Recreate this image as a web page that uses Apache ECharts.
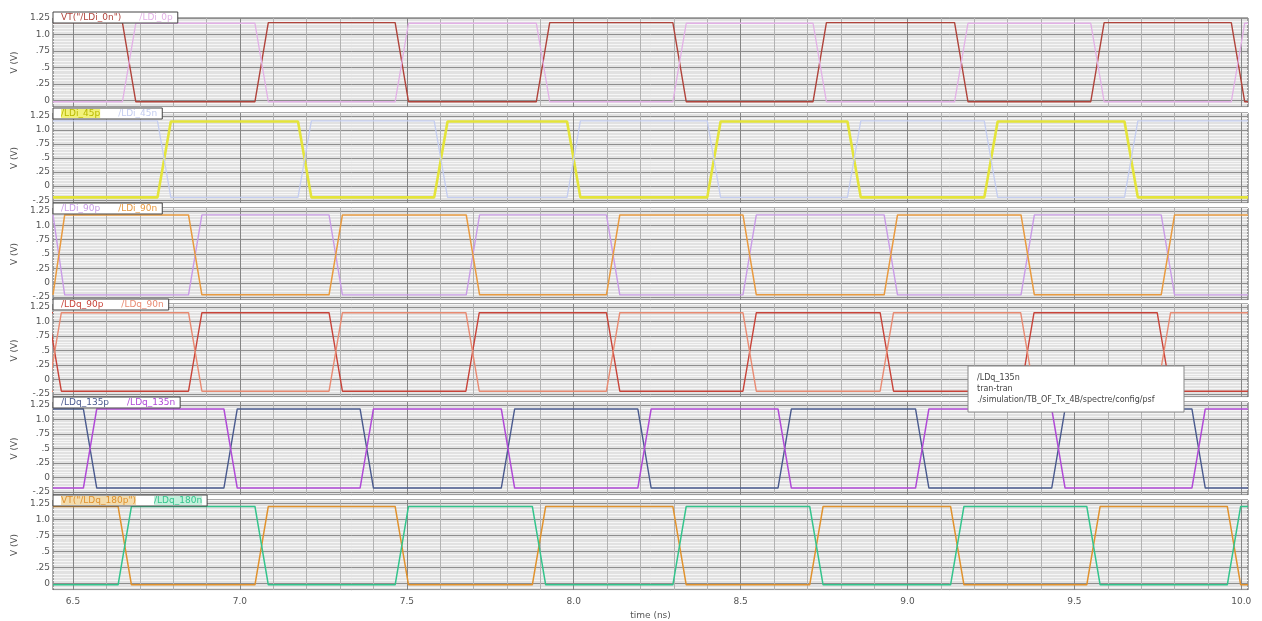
<!DOCTYPE html>
<html>
<head>
<meta charset="utf-8">
<title>LD waveforms</title>
<script src="https://cdn.jsdelivr.net/npm/echarts@6/dist/echarts.min.js"></script>
<style>
  html, body { margin: 0; padding: 0; background: #fff; }
  #chart { width: 1262px; height: 621px; }
</style>
</head>
<body>
<div id="chart"></div>
<script>
// time axis (ns)
const xTickValues = [6.5, 7.0, 7.5, 8.0, 8.5, 9.0, 9.5, 10.0];
const xTickLabels = ['6.5', '7.0', '7.5', '8.0', '8.5', '9.0', '9.5', '10.0'];
const yTickValues = [-0.25, 0, 0.25, 0.5, 0.75, 1.0, 1.25];
const yTickLabels = ['-.25', '0', '.25', '.5', '.75', '1.0', '1.25'];

// mid-point of every transition, read per panel (ns)
const edgesI0   = [6.668, 7.065, 7.485, 7.908, 8.317, 8.737, 9.161, 9.569, 9.990];
const edgesI45  = [6.773, 7.194, 7.602, 8.000, 8.420, 8.840, 9.250, 9.670];
const edgesI90  = [6.455, 6.866, 7.287, 7.698, 8.118, 8.527, 8.950, 9.360, 9.780];
const edgesQ90  = [6.445, 6.866, 7.287, 7.697, 8.118, 8.527, 8.938, 9.359, 9.768];
const edgesQ135 = [6.551, 6.972, 7.380, 7.803, 8.212, 8.632, 9.044, 9.452, 9.872];
const edgesQ180 = [6.655, 7.065, 7.485, 7.896, 8.317, 8.727, 9.149, 9.557, 9.978];
const panelEdges = [edgesI0, edgesI45, edgesI90, edgesQ90, edgesQ135, edgesQ180];

// per panel y range (V)
const panelMin = [-0.1, -0.3, -0.3, -0.3, -0.3, -0.1];
const panelMax = [1.25, 1.3, 1.3, 1.3, 1.3, 1.3];

// signals
const signalNames = ['VT("/LDi_0n")', '/LDi_0p', '/LDi_45p', '/LDi_45n', '/LDi_90p', '/LDi_90n',
  '/LDq_90p', '/LDq_90n', '/LDq_135p', '/LDq_135n', 'VT("/LDq_180p")', '/LDq_180n'];
const signalPanel = [0, 0, 1, 1, 2, 2, 3, 3, 4, 4, 5, 5];
const signalStartHigh = [true, false, false, true, true, false, true, false, true, false, true, false];
const signalHigh = [1.18, 1.17, 1.15, 1.16, 1.18, 1.18, 1.15, 1.15, 1.18, 1.18, 1.2, 1.2];
const signalLow = [-0.02, -0.02, -0.2, -0.2, -0.21, -0.21, -0.2, -0.2, -0.18, -0.18, -0.02, -0.02];
const signalColors = ['#b0443c', '#e2b0e6', '#e4e43a', '#c4cdf0', '#c99be6', '#e89a40',
  '#c8443a', '#e88a72', '#4a5a8e', '#b04ad6', '#e0922e', '#34c48c'];
const signalWidth = [1.4, 1.3, 2.6, 1.3, 1.4, 1.5, 1.4, 1.4, 1.4, 1.5, 1.5, 1.5];
const signalTextBg = [null, null, '#f2f27a', null, null, null, null, null, null, null, '#f3dcae', '#c4f0dc'];

const X_MIN = 6.44, X_MAX = 10.02;
const HALF_EDGE = 0.02;
const FONT = 'DejaVu Sans';

const gridTop = [18, 113, 208, 304, 402, 500];
const gridHeight = [89, 90, 92, 93, 93, 90];
const legendTop = [12, 108, 203, 299, 397, 495];

function wave(edges, startHigh, hi, lo) {
  const pts = [];
  let level = startHigh ? hi : lo;
  pts.push([X_MIN, level]);
  edges.forEach(t => {
    const next = level === hi ? lo : hi;
    pts.push([t - HALF_EDGE, level]);
    pts.push([t + HALF_EDGE, next]);
    level = next;
  });
  pts.push([X_MAX, level]);
  return pts;
}

// vertical grid: lines every 0.02 from 6.44, only 0.1 steps visible
const xLineColors = [];
for (let i = 0; i < 25; i++) {
  if (i === 3) xLineColors.push('#858585');
  else if (i % 5 === 3) xLineColors.push('#b2b2b2');
  else xLineColors.push('rgba(0,0,0,0)');
}

function yLineColors(min) {
  const majorIdx = Math.round(-min / 0.05) % 5;
  const arr = [];
  for (let i = 0; i < 5; i++) arr.push(i === majorIdx ? '#8e8e8e' : '#f6f6f6');
  return arr;
}

function lookup(values, labels, v) {
  for (let i = 0; i < values.length; i++) {
    if (Math.abs(values[i] - v) < 1e-6) return labels[i];
  }
  return '';
}

const grids = [], xAxes = [], yAxes = [], legends = [];
for (let p = 0; p < 6; p++) {
  const last = p === 5;
  grids.push({
    left: 53, right: 14, top: gridTop[p], height: gridHeight[p],
    show: true, backgroundColor: '#e2e2e2', borderColor: '#555', borderWidth: 1
  });
  xAxes.push({
    type: 'value', gridIndex: p, min: X_MIN, max: X_MAX, interval: 0.02,
    axisLine: { show: false }, axisTick: { show: false },
    splitLine: { show: true, lineStyle: { color: xLineColors, width: 1 } },
    axisLabel: {
      show: last, fontSize: 9, color: '#555', fontFamily: FONT, margin: 7,
      formatter: v => lookup(xTickValues, xTickLabels, v)
    },
    name: last ? 'time (ns)' : '', nameLocation: 'middle', nameGap: 21,
    nameTextStyle: { fontSize: 9, color: '#555', fontFamily: FONT }
  });
  yAxes.push({
    type: 'value', gridIndex: p, min: panelMin[p], max: panelMax[p], interval: 0.05,
    axisLine: { show: false }, axisTick: { show: false },
    splitLine: { show: true, lineStyle: { color: yLineColors(panelMin[p]), width: 1 } },
    axisLabel: {
      fontSize: 9, color: '#555', fontFamily: FONT, margin: 3,
      formatter: v => lookup(yTickValues, yTickLabels, v)
    },
    name: 'V (V)', nameLocation: 'middle', nameGap: 26, nameRotate: 90,
    nameTextStyle: { fontSize: 9, color: '#555', fontFamily: FONT }
  });
}

const series = [];
for (let s = 0; s < signalNames.length; s++) {
  const p = signalPanel[s];
  series.push({
    name: signalNames[s], type: 'line', xAxisIndex: p, yAxisIndex: p,
    data: wave(panelEdges[p], signalStartHigh[s], signalHigh[s], signalLow[s]),
    showSymbol: false, symbol: 'none', animation: false,
    lineStyle: { color: signalColors[s], width: signalWidth[s] },
    itemStyle: { color: signalColors[s] }
  });
}

for (let p = 0; p < 6; p++) {
  const items = [];
  for (let s = 0; s < signalNames.length; s++) {
    if (signalPanel[s] !== p) continue;
    const ts = { color: signalColors[s] === '#e4e43a' ? '#b8b800' : signalColors[s] };
    if (signalTextBg[s]) ts.backgroundColor = signalTextBg[s];
    items.push({ name: signalNames[s], textStyle: ts });
  }
  legends.push({
    top: legendTop[p], left: 53, icon: 'none', itemWidth: 1, itemHeight: 1, itemGap: 12,
    padding: [1, 5, 1, 2], backgroundColor: '#fff', borderColor: '#444', borderWidth: 1,
    selectedMode: false, textStyle: { fontSize: 9, fontFamily: FONT },
    data: items
  });
}

const tipStyle = { fontSize: 8, fontFamily: FONT, fill: '#444', verticalAlign: 'middle', align: 'left' };

const chart = echarts.init(document.getElementById('chart'));
chart.setOption({
  backgroundColor: '#fff',
  animation: false,
  grid: grids,
  xAxis: xAxes,
  yAxis: yAxes,
  legend: legends,
  series: series,
  graphic: [
    { type: 'rect', z: 100, zlevel: 1, shape: { x: 968, y: 366, width: 216, height: 46 },
      style: { fill: '#fff', stroke: '#888', lineWidth: 1 } },
    { type: 'text', z: 101, zlevel: 1, x: 977, y: 378, style: Object.assign({ text: '/LDq_135n' }, tipStyle) },
    { type: 'text', z: 101, zlevel: 1, x: 977, y: 389, style: Object.assign({ text: 'tran-tran' }, tipStyle) },
    { type: 'text', z: 101, zlevel: 1, x: 977, y: 400, style: Object.assign({ text: './simulation/TB_OF_Tx_4B/spectre/config/psf' }, tipStyle) }
  ]
});
</script>
</body>
</html>
